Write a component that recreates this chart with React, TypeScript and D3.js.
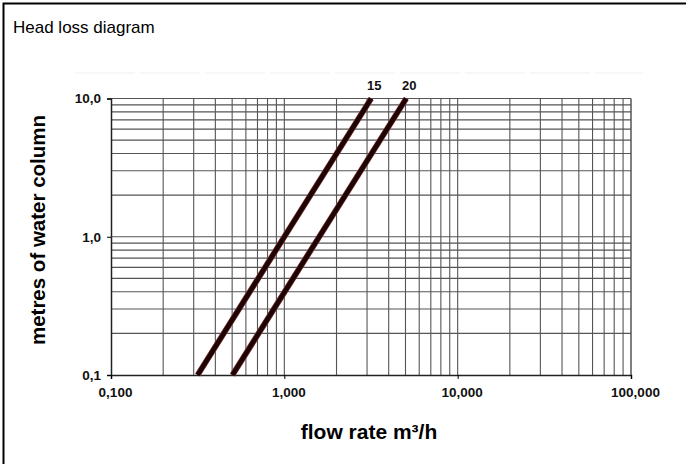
import React, { useEffect, useRef } from 'react';
import * as d3 from 'd3';

// flow rate (m³/h) vs head loss (m)
const flowTicks = [0.1, 1, 10, 100];
const flowTickLabels = ['0,100', '1,000', '10,000', '100,000'];
const headTicks = [0.1, 1, 10];
const headTickLabels = ['0,1', '1,0', '10,0'];

const seriesNames = ['15', '20'];
const flow15 = [0.316, 1.0, 3.17];
const head15 = [0.1, 1.0, 10];
const flow20 = [0.502, 1.59, 5.05];
const head20 = [0.1, 1.0, 10];

const App: React.FC = () => {
  const ref = useRef<SVGSVGElement | null>(null);

  useEffect(() => {
    if (!ref.current) return;
    const svg = d3.select(ref.current);
    svg.selectAll('*').remove();

    const width = 686;
    const height = 464;
    const left = 111;
    const right = 631;
    const top = 98.5;
    const bottom = 375;
    const font = '"Liberation Sans", Arial, sans-serif';

    svg.attr('width', width).attr('height', height);

    svg.append('rect').attr('width', width).attr('height', height).attr('fill', '#fff');

    // outer frame: only top and left edges are inside the picture
    svg.append('path')
      .attr('d', `M3.5,${height} V3.5 H${width}`)
      .attr('fill', 'none').attr('stroke', '#000').attr('stroke-width', 2);

    svg.append('text')
      .attr('x', 13).attr('y', 33)
      .attr('font-family', font)
      .attr('font-size', 17)
      .text('Head loss diagram');

    const x = d3.scaleLog().domain([0.1, 100]).range([left, right]);
    const y = d3.scaleLog().domain([0.1, 10]).range([bottom, top]);

    // faint scan line above plot
    svg.append('line')
      .attr('x1', 75).attr('x2', 643).attr('y1', 73).attr('y2', 73)
      .attr('stroke', '#efefef').attr('stroke-width', 1.2)
      .attr('stroke-dasharray', '60 5');

    // grid
    const xGrid = x.ticks().filter((d) => d > 0.1);
    const yGrid = y.ticks().filter((d) => d > 0.1);
    const g = svg.append('g');
    g.selectAll('line.vx')
      .data(xGrid)
      .enter()
      .append('line')
      .attr('x1', (d) => x(d)).attr('x2', (d) => x(d))
      .attr('y1', top).attr('y2', bottom)
      .attr('stroke', '#555').attr('stroke-width', (d) => (d === 100 ? 1.5 : 1.1));
    g.selectAll('line.hy')
      .data(yGrid)
      .enter()
      .append('line')
      .attr('x1', left).attr('x2', right)
      .attr('y1', (d) => y(d)).attr('y2', (d) => y(d))
      .attr('stroke', '#555').attr('stroke-width', 1.1);

    // axes
    const yAxis = d3.axisLeft(y)
      .tickValues(headTicks)
      .tickSize(4)
      .tickPadding(6)
      .tickFormat((_, i) => headTickLabels[i]);
    const ya = svg.append('g').attr('transform', `translate(${left},0)`).call(yAxis as any);
    ya.select('.domain').attr('stroke', '#222').attr('stroke-width', 1.5);
    ya.selectAll('text').attr('font-family', font).attr('font-size', 13.5).attr('font-weight', 'bold').attr('fill', '#111');

    const xAxis = d3.axisBottom(x)
      .tickValues(flowTicks)
      .tickSize(4)
      .tickPadding(8)
      .tickFormat((_, i) => flowTickLabels[i]);
    const xa = svg.append('g').attr('transform', `translate(0,${bottom})`).call(xAxis as any);
    xa.select('.domain').attr('stroke', '#222').attr('stroke-width', 1.5);
    xa.selectAll('text').attr('font-family', font).attr('font-size', 13.5).attr('font-weight', 'bold').attr('fill', '#111').attr('dx', 4);

    // curves
    const series = [
      { name: seriesNames[0], flow: flow15, head: head15 },
      { name: seriesNames[1], flow: flow20, head: head20 },
    ];
    const line = d3.line<[number, number]>()
      .x((d) => x(d[0]))
      .y((d) => y(d[1]));

    series.forEach((s) => {
      const pts = s.flow.map((f, i) => [f, s.head[i]] as [number, number]);
      svg.append('path').attr('d', line(pts)).attr('fill', 'none').attr('stroke', '#8a3a3a').attr('stroke-width', 6);
      svg.append('path').attr('d', line(pts)).attr('fill', 'none').attr('stroke', '#1e0505').attr('stroke-width', 4.6);
      const last = pts[pts.length - 1];
      svg.append('text')
        .attr('x', x(last[0]) + 3)
        .attr('y', y(last[1]) - 9)
        .attr('text-anchor', 'middle')
        .attr('font-family', font)
        .attr('font-size', 13)
        .attr('font-weight', 'bold')
        .attr('fill', '#111')
        .text(s.name);
    });

    // axis titles
    svg.append('text')
      .attr('transform', `translate(45,230) rotate(-90)`)
      .attr('text-anchor', 'middle')
      .attr('font-family', font)
      .attr('font-size', 20.5)
      .attr('font-weight', 'bold')
      .text('metres of water column');

    svg.append('text')
      .attr('x', 369)
      .attr('y', 439)
      .attr('text-anchor', 'middle')
      .attr('font-family', font)
      .attr('font-size', 21)
      .attr('font-weight', 'bold')
      .text('flow rate m³/h');
  }, []);

  return <svg ref={ref} style={{ position: 'absolute', left: 0, top: 0, display: 'block', overflow: 'hidden' }}></svg>;
};

export default App;
